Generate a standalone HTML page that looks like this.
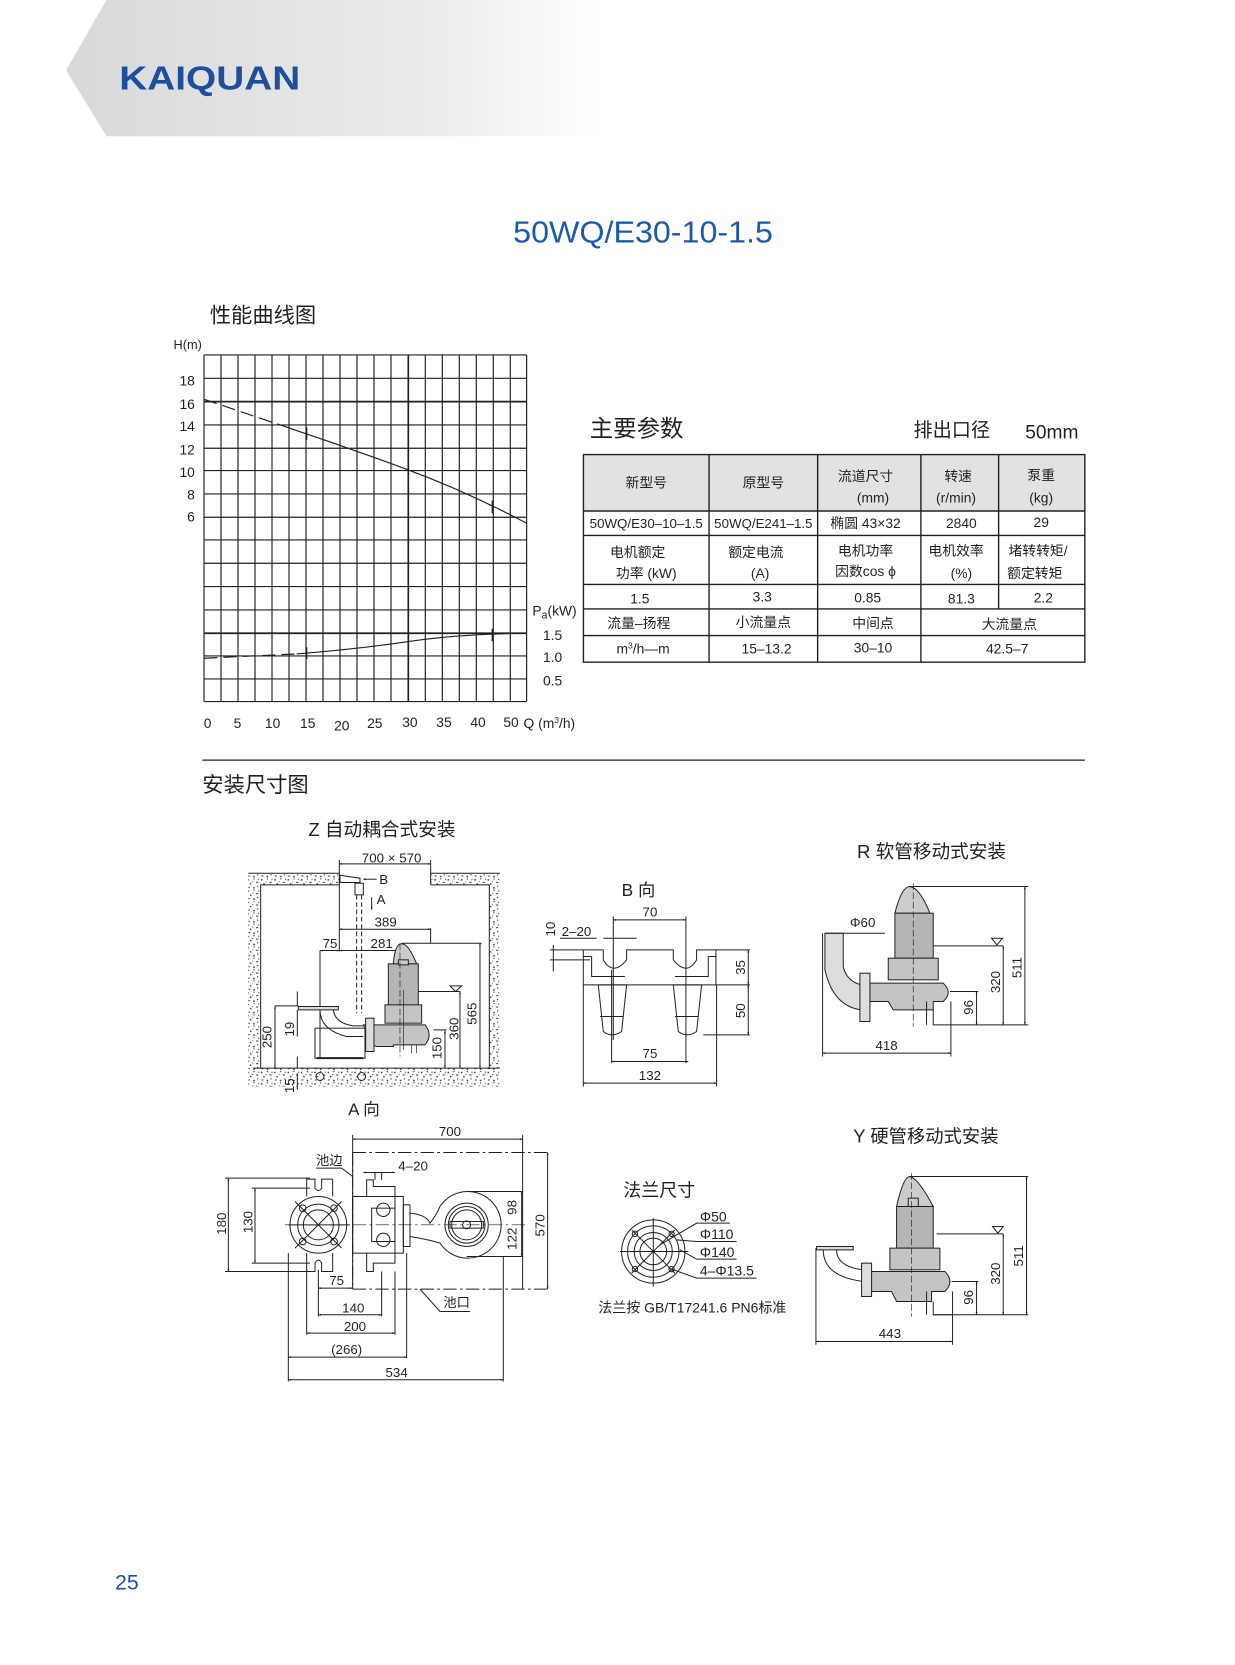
<!DOCTYPE html>
<html><head><meta charset="utf-8"><style>
html,body{margin:0;padding:0;background:#fff}
svg{display:block}
text{font-family:"Liberation Sans","Noto Sans CJK SC",sans-serif;fill:#231f20}
</style></head><body>
<svg width="1235" height="1665" viewBox="0 0 1160 1564" xmlns="http://www.w3.org/2000/svg">
<defs>
<linearGradient id="bg" x1="0" x2="1" y1="0" y2="0"><stop offset="0" stop-color="#d9d9d9"/><stop offset="0.7" stop-color="#ececec"/><stop offset="1" stop-color="#ffffff"/></linearGradient>
<marker id="a" viewBox="0 0 10 10" refX="10" refY="5" markerWidth="14" markerHeight="8" markerUnits="userSpaceOnUse" orient="auto-start-reverse"><path d="M0,1.5 L10,5 L0,8.5z" fill="#231f20"/></marker>
<pattern id="dots" width="40" height="34" patternUnits="userSpaceOnUse">
<g fill="#333"><circle cx="5" cy="6" r="2.5"/><circle cx="22" cy="3" r="2"/><rect x="28" y="12" width="7" height="3"/><circle cx="12" cy="18" r="2.5"/><circle cx="33" cy="25" r="2"/><rect x="4" y="27" width="6" height="3"/><circle cx="22" cy="30" r="2.5"/><circle cx="36" cy="5" r="1.8"/><circle cx="18" cy="12" r="1.5"/></g></pattern>
</defs>

<!-- header -->
<polygon points="100,0 565,0 565,128 100,128 62,66" fill="url(#bg)"/>
<text x="112" y="84" font-size="31" font-weight="bold" fill="#1d4f9c" style="fill:#1d4f9c" textLength="170" lengthAdjust="spacingAndGlyphs">KAIQUAN</text>
<text x="604" y="228" font-size="29" text-anchor="middle" style="fill:#1b5aa6" textLength="244" lengthAdjust="spacingAndGlyphs">50WQ/E30-10-1.5</text>

<!-- chart -->
<text x="197" y="303" font-size="20">性能曲线图</text>
<text x="163" y="328" font-size="12">H(m)</text>
<g font-size="13" text-anchor="end">
<text x="183" y="362">18</text><text x="183" y="384">16</text><text x="183" y="405">14</text><text x="183" y="427">12</text><text x="183" y="448">10</text><text x="183" y="469">8</text><text x="183" y="490">6</text>
</g>
<g font-size="13"><text x="510" y="601">1.5</text><text x="510" y="622">1.0</text><text x="510" y="644">0.5</text>
<text x="500" y="578">P<tspan font-size="10" dy="3">a</tspan><tspan dy="-3">(kW)</tspan></text></g>
<g font-size="13" text-anchor="middle">
<text x="195" y="684">0</text><text x="223" y="684">5</text><text x="256" y="684">10</text><text x="289" y="684">15</text><text x="321" y="686">20</text><text x="352" y="684">25</text><text x="385" y="683">30</text><text x="417" y="683">35</text><text x="449" y="683">40</text><text x="480" y="683">50</text>
<text x="516" y="684">Q (m<tspan font-size="8" dy="-5">3</tspan><tspan dy="5">/h)</tspan></text></g>
<g transform="scale(0.9392) translate(190 340) scale(0.33333)" stroke="#231f20" fill="none">
<g stroke-width="3.5">
<path d="M42,45H1010M42,115H1010M42,185H1010M42,255H1010M42,325H1010M42,392H1010M42,462H1010M42,532H1010M42,600H1010M42,670H1010M42,740H1010M42,810H1010M42,880H1010M42,948H1010M42,1017H1010M42,1085H1010"/>
<path d="M42,45V1085M93,45V1085M144,45V1085M195,45V1085M246,45V1085M297,45V1085M348,45V1085M399,45V1085M450,45V1085M501,45V1085M552,45V1085M603,45V1085M655,45V1085M706,45V1085M757,45V1085M808,45V1085M859,45V1085M910,45V1085M961,45V1085M1010,45V1085"/>
</g>
<path d="M42,185H1010M42,880H1010M655,45V1085" stroke-width="5"/>
<path d="M42,178 L300,265" stroke-width="3.5" stroke-dasharray="40,18"/>
<path d="M300,265 Q480,325 655,390 T1010,550" stroke-width="3.5"/>
<path d="M42,955 L320,942" stroke-width="3.5" stroke-dasharray="40,18"/>
<path d="M320,942 Q500,928 655,905 T1010,880" stroke-width="3.5"/>
<path d="M350,262V300M907,482V520M350,922V958M907,866V904" stroke-width="4"/>
</g>

<!-- table -->
<text x="554" y="410" font-size="22">主要参数</text>
<text x="858" y="410" font-size="18">排出口径</text>
<text x="963" y="412" font-size="18">50mm</text>
<rect x="548" y="427" width="471" height="53" fill="#e2e2e2"/>
<g stroke="#231f20" stroke-width="1.3" fill="none">
<rect x="548" y="427" width="471" height="195"/>
<path d="M548,480H1019M548,503H1019M548,549H1019M548,572H1019M548,597H1019"/>
<path d="M666,427V622M768,427V622M865,427V622M938,427V572"/>
</g>
<g font-size="13" text-anchor="middle">
<text x="607" y="458">新型号</text><text x="717" y="458">原型号</text>
<text x="813" y="452">流道尺寸</text><text x="820" y="472">(mm)</text>
<text x="900" y="452">转速</text><text x="898" y="472">(r/min)</text>
<text x="978" y="451">泵重</text><text x="978" y="472">(kg)</text>
<text x="607" y="496" font-size="12.5">50WQ/E30–10–1.5</text><text x="717" y="496" font-size="12.5">50WQ/E241–1.5</text>
<text x="813" y="496">椭圆 43×32</text><text x="903" y="496">2840</text><text x="978" y="495">29</text>
<text x="599" y="523">电机额定</text><text x="607" y="543">功率 (kW)</text>
<text x="710" y="523">额定电流</text><text x="714" y="543">(A)</text>
<text x="813" y="522">电机功率</text><text x="813" y="541">因数cos ϕ</text>
<text x="898" y="522">电机效率</text><text x="903" y="543">(%)</text>
<text x="975" y="522">堵转转矩/</text><text x="972" y="543">额定转矩</text>
<text x="601" y="567">1.5</text><text x="716" y="565">3.3</text><text x="815" y="566">0.85</text><text x="903" y="567">81.3</text><text x="980" y="566">2.2</text>
<text x="600" y="590">流量–扬程</text><text x="717" y="589">小流量点</text><text x="820" y="590">中间点</text><text x="948" y="591">大流量点</text>
<text x="604" y="614">m<tspan font-size="8" dy="-5">3</tspan><tspan dy="5">/h—m</tspan></text><text x="720" y="614">15–13.2</text><text x="820" y="613">30–10</text><text x="946" y="614">42.5–7</text>
</g>

<line x1="190" y1="714" x2="1019" y2="714" stroke="#231f20" stroke-width="1.2"/>
<text x="190" y="744" font-size="20">安装尺寸图</text>

<!-- Z view -->
<g transform="scale(0.9392) translate(220 810) scale(0.33333)" stroke="#231f20" stroke-width="3" fill="none">
<text x="265" y="78" font-size="56" stroke="none">Z  自动耦合式安装</text>
<path d="M85,190H840V830H85Z" fill="url(#dots)" stroke="none"/>
<rect x="122" y="225" width="686" height="550" fill="#fff" stroke="none"/>
<rect x="358" y="190" width="274" height="35" fill="#fff" stroke="none"/>
<path d="M85,190H358M632,190H840M122,775V225H358M632,225H808V775M100,775H840"/>
<path d="M358,162H632" marker-start="url(#a)" marker-end="url(#a)"/>
<path d="M358,150V425M632,150V225M632,355V400"/>
<text x="515" y="158" font-size="40" text-anchor="middle" stroke="none">700 × 570</text>
<path d="M360,196L420,205L420,218L360,218Z"/>
<path d="M470,208H430" marker-end="url(#a)"/><text x="478" y="222" font-size="40" stroke="none">B</text>
<rect x="405" y="220" width="25" height="35"/>
<path d="M410,255V610M425,255V610" stroke-dasharray="14,8"/>
<path d="M455,262V300" marker-end="url(#a)"/><text x="470" y="282" font-size="40" stroke="none">A</text>
<path d="M358,358H632" marker-start="url(#a)" marker-end="url(#a)"/><text x="497" y="350" font-size="40" text-anchor="middle" stroke="none">389</text>
<path d="M300,422H358" marker-start="url(#a)" marker-end="url(#a)"/><text x="330" y="415" font-size="40" text-anchor="middle" stroke="none">75</text>
<path d="M358,422H535" marker-start="url(#a)" marker-end="url(#a)"/><text x="485" y="415" font-size="40" text-anchor="middle" stroke="none">281</text>
<path d="M300,422V745"/>
<path d="M520,462 Q525,400 545,402 Q565,400 590,462Z" fill="#ccc"/>
<rect x="505" y="462" width="90" height="125" fill="#b5b5b5"/>
<rect x="535" y="450" width="30" height="15" fill="#ccc"/>
<rect x="495" y="585" width="110" height="55" fill="#c4c4c4"/>
<path d="M430,645H615 Q640,675 615,705H520L520,710H470L455,705Z" fill="#c4c4c4"/>
<path d="M575,705V730M590,705V730M550,540V720" stroke-width="2"/>
<rect x="437" y="625" width="25" height="100" fill="#ddd"/>
<path d="M540,400V740" stroke-dasharray="20,8" stroke-width="2"/>
<path d="M595,545H720M690,528H725L707,545Z"/>
<path d="M545,400H785M640,660H680"/>
<path d="M780,400V775" marker-start="url(#a)" marker-end="url(#a)"/>
<path d="M720,545V775" marker-start="url(#a)" marker-end="url(#a)"/>
<path d="M675,662V775" marker-start="url(#a)" marker-end="url(#a)"/>
<g font-size="40" stroke="none">
<text transform="translate(770,645) rotate(-90)">565</text>
<text transform="translate(715,690) rotate(-90)">360</text>
<text transform="translate(665,748) rotate(-90)">150</text>
<text transform="translate(155,715) rotate(-90)">250</text>
<text transform="translate(222,680) rotate(-90)">19</text>
<text transform="translate(222,850) rotate(-90)">15</text>
</g>
<path d="M235,590H355V600H235Z" fill="#ddd"/>
<path d="M300,600 Q300,660 380,680 H430 M340,600 Q345,640 400,648 H430"/>
<rect x="285" y="655" width="150" height="90"/>
<path d="M290,745H430" stroke-width="6"/>
<path d="M165,588H235M165,775V588" marker-end="url(#a)"/>
<path d="M165,600V775" marker-end="url(#a)"/>
<path d="M232,545V588M232,600V680M232,740V775M232,790V840"/>
<circle cx="300" cy="800" r="12"/><circle cx="425" cy="800" r="12"/>
</g>

<!-- A view -->
<g transform="scale(0.9392) translate(210 1100) scale(0.33333)" stroke="#231f20" stroke-width="3" fill="none">
<text x="415" y="45" font-size="50" stroke="none">A 向</text>
<path d="M428,118H938" marker-start="url(#a)" marker-end="url(#a)"/><text x="720" y="108" font-size="40" text-anchor="middle" stroke="none">700</text>
<path d="M428,105V568M938,105V568"/>
<path d="M428,158H1015M428,568H1015M428,158V568" stroke-dasharray="40,10,8,10"/>
<path d="M1013,158V568" marker-start="url(#a)" marker-end="url(#a)"/><text transform="translate(1003,410) rotate(-90)" font-size="40" stroke="none">570</text>
<text x="318" y="195" font-size="40" stroke="none">池边</text><path d="M318,205H395L428,230"/>
<path d="M55,235V515" marker-start="url(#a)" marker-end="url(#a)"/><path d="M45,235H300M45,515H300"/><text transform="translate(48,405) rotate(-90)" font-size="40" stroke="none">180</text>
<path d="M135,265V490" marker-start="url(#a)" marker-end="url(#a)"/><path d="M125,265H300M125,490H300"/><text transform="translate(128,400) rotate(-90)" font-size="40" stroke="none">130</text>
<circle cx="325" cy="375" r="85"/><circle cx="325" cy="375" r="62"/><circle cx="325" cy="375" r="45"/>
<path d="M255,305L395,445M395,305L255,445M235,375H420"/>
<circle cx="278" cy="325" r="10"/><circle cx="372" cy="325" r="10"/><circle cx="278" cy="425" r="10"/><circle cx="372" cy="425" r="10"/>
<path d="M290,290V238H315V265Q325,280 335,265V238H368V290M290,460V515H315V490Q325,472 335,490V515H368V460"/>
<rect x="428" y="290" width="152" height="170"/>
<path d="M470,290V240H490V260H555V490H490V515H470V460"/>
<rect x="485" y="325" width="70" height="100"/>
<circle cx="520" cy="330" r="20"/><circle cx="520" cy="420" r="20"/>
<path d="M460,218H555" marker-start="url(#a)" marker-end="url(#a)"/><text x="565" y="212" font-size="40" stroke="none">4–20</text>
<path d="M495,218V240M515,218V240"/>
<rect x="580" y="315" width="20" height="125"/>
<path d="M600,340 Q650,345 660,370 Q680,345 690,320 A100,100 0 1 1 690,430 Q660,420 600,410"/>
<circle cx="770" cy="375" r="65"/><circle cx="770" cy="375" r="55"/><circle cx="770" cy="375" r="45"/>
<rect x="720" y="365" width="100" height="20"/><circle cx="770" cy="375" r="12"/>
<path d="M225,375H945" stroke-dasharray="40,10,8,10" stroke-width="2"/>
<path d="M935,275V375" marker-start="url(#a)"/><path d="M935,375V470" marker-end="url(#a)"/><path d="M770,275H940M770,470H940"/>
<text transform="translate(920,345) rotate(-90)" font-size="40" stroke="none">98</text>
<text transform="translate(920,450) rotate(-90)" font-size="40" stroke="none">122</text>
<path d="M325,565H428" marker-start="url(#a)" marker-end="url(#a)"/><text x="380" y="555" font-size="40" text-anchor="middle" stroke="none">75</text>
<text x="700" y="622" font-size="40" stroke="none">池口</text><path d="M630,568L690,635H780"/>
<path d="M325,645H515" marker-start="url(#a)" marker-end="url(#a)"/><text x="430" y="638" font-size="40" text-anchor="middle" stroke="none">140</text>
<path d="M290,700H555" marker-start="url(#a)" marker-end="url(#a)"/><text x="435" y="693" font-size="40" text-anchor="middle" stroke="none">200</text>
<path d="M235,772H590" marker-start="url(#a)" marker-end="url(#a)"/><text x="410" y="762" font-size="40" text-anchor="middle" stroke="none">(266)</text>
<path d="M235,840H880" marker-start="url(#a)" marker-end="url(#a)"/><text x="560" y="832" font-size="40" text-anchor="middle" stroke="none">534</text>
<path d="M235,460V845M290,510V705M325,510V650M515,515V650M555,515V705M590,460V775M880,470V845"/>
</g>

<!-- B view + R -->
<g transform="scale(0.9392) translate(540 870) scale(0.33333)" stroke="#231f20" stroke-width="3" fill="none">
<text x="245" y="78" font-size="52" stroke="none">B  向</text>
<path d="M220,150H438" marker-start="url(#a)" marker-end="url(#a)"/><text x="330" y="140" font-size="40" text-anchor="middle" stroke="none">70</text>
<path d="M220,140V510M438,140V580M215,300V580"/>
<text x="65" y="198" font-size="40" stroke="none">2–20</text><path d="M60,205H170M190,205H290"/>
<text transform="translate(45,200) rotate(-90)" font-size="40" stroke="none">10</text>
<path d="M40,225V305M30,240H130M30,270H150"/>
<path d="M130,240H190V270Q220,320 260,270V240H400V270Q440,320 470,270V240H528V345H130Z"/>
<path d="M155,260V320H255M405,320H505V260M130,260H155M505,260H528"/>
<path d="M175,345H260L245,485Q215,505 190,485Z"/><path d="M400,345H485L470,485Q440,505 415,485Z"/>
<path d="M180,440H250M405,440H475"/>
<path d="M528,240H630M528,345H630M490,495H630"/>
<path d="M625,240V345" marker-start="url(#a)" marker-end="url(#a)"/><path d="M625,345V495" marker-start="url(#a)" marker-end="url(#a)"/>
<text transform="translate(615,315) rotate(-90)" font-size="40" stroke="none">35</text>
<text transform="translate(615,445) rotate(-90)" font-size="40" stroke="none">50</text>
<path d="M215,575H445" marker-start="url(#a)" marker-end="url(#a)"/><text x="330" y="565" font-size="40" text-anchor="middle" stroke="none">75</text>
<path d="M130,640H530" marker-start="url(#a)" marker-end="url(#a)"/><text x="330" y="630" font-size="40" text-anchor="middle" stroke="none">132</text>
<path d="M130,345V650M530,345V650"/>
<!-- R pump -->
<path d="M1065,130 Q1085,50 1110,50 Q1140,55 1170,130Z" fill="#ccc"/>
<rect x="1065" y="130" width="115" height="135" fill="#b5b5b5"/>
<rect x="1045" y="265" width="150" height="65" fill="#c4c4c4"/>
<path d="M990,340H1210Q1240,368 1210,395H1180V420H1060L1045,395H990Z" fill="#c4c4c4"/>
<path d="M1160,395V465M1180,420V465H1230"/>
<path d="M855,190H910V290 Q920,335 965,345V420 Q880,410 855,300Z" fill="#ddd"/>
<rect x="960" y="310" width="30" height="145" fill="#ddd"/>
<path d="M1120,40V470" stroke-dasharray="20,8" stroke-width="2"/>
<text x="930" y="172" font-size="40" stroke="none">Φ60</text><path d="M855,190H1035"/>
<path d="M1180,228H1390M1355,205H1388L1371,225Z"/>
<path d="M1110,50H1465M1230,365H1315M1230,465H1465"/>
<path d="M1455,50V465" marker-start="url(#a)" marker-end="url(#a)"/><path d="M1390,228V465" marker-start="url(#a)" marker-end="url(#a)"/><path d="M1310,365V465" marker-start="url(#a)" marker-end="url(#a)"/>
<text transform="translate(1445,325) rotate(-90)" font-size="40" stroke="none">511</text>
<text transform="translate(1380,370) rotate(-90)" font-size="40" stroke="none">320</text>
<text transform="translate(1300,435) rotate(-90)" font-size="40" stroke="none">96</text>
<path d="M848,550H1233" marker-start="url(#a)" marker-end="url(#a)"/><text x="1040" y="540" font-size="40" text-anchor="middle" stroke="none">418</text>
<path d="M848,190V560M1233,395V560"/>
</g>
<text x="805" y="806" font-size="17.5">R 软管移动式安装</text>

<!-- flange + Y -->
<g transform="scale(0.9392) translate(590 1130) scale(0.33333)" stroke="#231f20" stroke-width="3" fill="none">
<text x="790" y="38" font-size="55" stroke="none">Y 硬管移动式安装</text>
<text x="100" y="200" font-size="54" stroke="none">法兰尺寸</text>
<circle cx="190" cy="365" r="95"/><circle cx="190" cy="365" r="77"/><circle cx="190" cy="365" r="57"/><circle cx="190" cy="365" r="40"/>
<path d="M190,265V470M90,365H295M125,300L255,430M255,300L125,430"/>
<circle cx="135" cy="312" r="8"/><circle cx="245" cy="312" r="8"/><circle cx="135" cy="418" r="8"/><circle cx="245" cy="418" r="8"/>
<g font-size="42" stroke="none"><text x="330" y="275">Φ50</text><text x="330" y="328">Φ110</text><text x="330" y="382">Φ140</text><text x="330" y="437">4–Φ13.5</text>
<text x="25" y="548" font-size="42">法兰按 GB/T17241.6 PN6标准</text></g>
<path d="M210,345L320,280H420M260,330L320,335H440M270,360L320,388H440M245,418L320,445H500"/>
<path d="M920,230 Q940,140 960,140 Q985,145 1030,230Z" fill="#ccc"/>
<rect x="920" y="230" width="110" height="125" fill="#b5b5b5"/><rect x="955" y="205" width="30" height="25" fill="#ccc"/>
<rect x="900" y="355" width="150" height="65" fill="#c4c4c4"/>
<path d="M840,425H1065Q1095,455 1065,485H1025V515H920L905,485H840Z" fill="#c4c4c4"/>
<path d="M1010,485V555M1030,515V555H1085"/>
<path d="M680,350H790V360H680Z" fill="#ddd"/>
<path d="M700,360 Q700,440 820,455M740,360 Q740,410 820,420"/>
<rect x="815" y="400" width="30" height="100" fill="#ddd"/>
<path d="M965,130V560" stroke-dasharray="20,8" stroke-width="2"/>
<path d="M1040,312H1240M1208,290H1240L1224,310Z"/>
<path d="M960,140H1315M1085,455H1165M1030,555H1315"/>
<path d="M1310,140V555" marker-start="url(#a)" marker-end="url(#a)"/><path d="M1240,312V555" marker-start="url(#a)" marker-end="url(#a)"/><path d="M1160,455V555" marker-start="url(#a)" marker-end="url(#a)"/>
<text transform="translate(1300,410) rotate(-90)" font-size="40" stroke="none">511</text>
<text transform="translate(1230,465) rotate(-90)" font-size="40" stroke="none">320</text>
<text transform="translate(1150,525) rotate(-90)" font-size="40" stroke="none">96</text>
<path d="M678,635H1088" marker-start="url(#a)" marker-end="url(#a)"/><text x="900" y="625" font-size="40" text-anchor="middle" stroke="none">443</text>
<path d="M678,355V645M1088,485V645"/>
</g>

<text x="108" y="1493" font-size="20" style="fill:#1d4f9c">25</text>
</svg>
</body></html>
